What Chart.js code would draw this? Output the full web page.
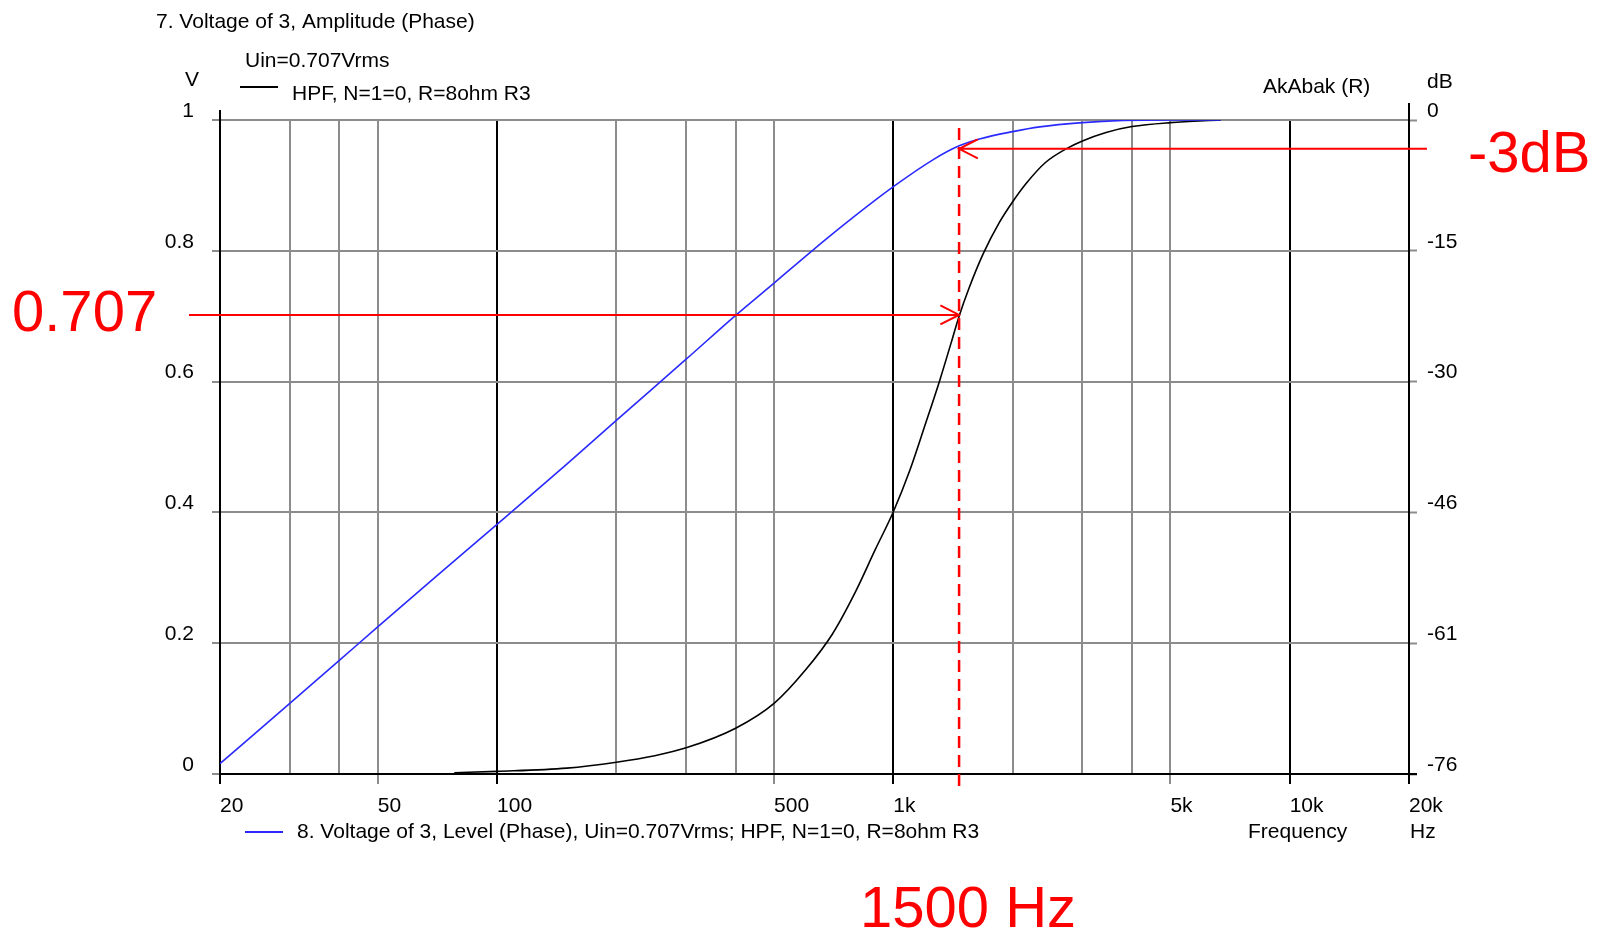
<!DOCTYPE html>
<html>
<head>
<meta charset="utf-8">
<title>HPF amplitude</title>
<script src="https://cdn.jsdelivr.net/npm/chart.js@4.4.1/dist/chart.umd.min.js"></script>
<style>
  html, body { margin: 0; padding: 0; background: #fff; }
  #wrap { width: 1602px; height: 931px; }
</style>
</head>
<body>
<div id="wrap"><canvas id="mycanvas" width="1602" height="931"></canvas></div>
<script>
/* frequency axis, Hz */
var xGridValues = [20, 30, 40, 50, 100, 200, 300, 400, 500, 1000, 2000, 3000, 4000, 5000, 10000, 20000];
var xLabelValues = [20, 50, 100, 500, 1000, 5000, 10000, 20000];
var xLabelText = ['20', '50', '100', '500', '1k', '5k', '10k', '20k'];
var xDarkLines = [20, 100, 1000, 10000, 20000];

/* left axis (V) and right axis (dB) */
var voltTicks = [0, 0.2, 0.4, 0.6, 0.8, 1];
var dbTicks = [-76, -60.8, -45.6, -30.4, -15.2, 0];
var dbTickText = ['-76', '-61', '-46', '-30', '-15', '0'];

/* blue curve: level, dB */
var levelFreq = [20, 30, 40, 50, 70, 100, 150, 200, 300, 400, 500, 616, 763, 1000, 1261, 1465, 1650, 2000, 2340, 3000, 3800, 5000, 6700];
var levelDb = [-74.8, -67.8, -62.8, -58.9, -53.1, -47.0, -40.0, -34.9, -27.8, -22.7, -18.95, -15.4, -11.9, -7.75, -4.6, -3.0, -2.2, -1.35, -0.8, -0.31, -0.06, 0, 0];

/* black curve: amplitude, V */
var ampFreq = [78, 100, 150, 200, 250, 300, 400, 500, 600, 700, 800, 900, 1000, 1100, 1200, 1311, 1400, 1465, 1550, 1687, 1850, 2000, 2170, 2420, 2750, 3000, 3440, 4000, 5000, 6700];
var ampVolt = [0.002, 0.004, 0.009, 0.018, 0.028, 0.040, 0.070, 0.108, 0.159, 0.213, 0.277, 0.343, 0.401, 0.464, 0.532, 0.603, 0.660, 0.700, 0.742, 0.796, 0.843, 0.875, 0.904, 0.935, 0.957, 0.968, 0.981, 0.990, 0.996, 1.0];

/* red markers */
var cutFreq = 1465;
var cutVolt = 0.702;
var cutDb = -3.35;

var FONT = '"Liberation Sans", Arial, sans-serif';
var GREY = '#8c8c8c';

function toPoints(xs, ys) {
	var out = [];
	for (var i = 0; i < xs.length; i++) out.push({x: xs[i], y: ys[i]});
	return out;
}

function xLineColor(ctx) {
	var v = ctx.tick ? ctx.tick.value : null;
	return xDarkLines.indexOf(v) >= 0 ? '#000' : GREY;
}

function xTickColor(ctx) {
	var v = ctx.tick ? ctx.tick.value : null;
	if (xLabelValues.indexOf(v) < 0) return 'rgba(0,0,0,0)';
	return xLineColor(ctx);
}

function arrow(c, x1, y1, x2, y2) {
	/* line from (x1,y1) to head at (x2,y2) */
	var ang = Math.atan2(y2 - y1, x2 - x1);
	c.beginPath();
	c.moveTo(x1, y1);
	c.lineTo(x2, y2);
	c.moveTo(x2 - 21 * Math.cos(ang - 0.47), y2 - 21 * Math.sin(ang - 0.47));
	c.lineTo(x2, y2);
	c.lineTo(x2 - 21 * Math.cos(ang + 0.47), y2 - 21 * Math.sin(ang + 0.47));
	c.stroke();
}

var overlay = {
	id: 'overlay',
	afterDatasetsDraw: function(chart) {
		var c = chart.ctx, a = chart.chartArea;
		var xs = chart.scales.x, ys = chart.scales.y, yd = chart.scales.y1;
		c.save();

		/* axis stubs outside the plot */
		c.strokeStyle = '#000';
		c.lineWidth = 2;
		c.beginPath();
		c.moveTo(a.left, a.top - 10); c.lineTo(a.left, a.top);
		c.moveTo(a.right, a.top - 17); c.lineTo(a.right, a.top);
		c.moveTo(a.right, a.bottom); c.lineTo(a.right + 8, a.bottom);
		c.stroke();

		/* texts */
		c.fillStyle = '#000';
		c.font = '21px ' + FONT;
		c.textBaseline = 'alphabetic';
		c.textAlign = 'left';
		c.fillText('7. Voltage of 3, Amplitude (Phase)', 156, 28);
		c.fillText('Uin=0.707Vrms', 245, 67);
		c.fillText('V', 185, 86);
		c.fillText('HPF, N=1=0, R=8ohm R3', 292, 100);
		c.fillText('AkAbak (R)', 1263, 93);
		c.fillText('dB', 1427, 88);
		c.fillText('8. Voltage of 3, Level (Phase), Uin=0.707Vrms; HPF, N=1=0, R=8ohm R3', 297, 838);
		c.fillText('Frequency', 1248, 838);
		c.fillText('Hz', 1410, 838);

		/* legend swatches */
		c.lineWidth = 2;
		c.strokeStyle = '#000';
		c.beginPath(); c.moveTo(240, 87); c.lineTo(278, 87); c.stroke();
		c.strokeStyle = '#2a2aff';
		c.beginPath(); c.moveTo(245, 832); c.lineTo(283, 832); c.stroke();

		/* red annotations */
		var fx = xs.getPixelForValue(cutFreq);
		var vy = ys.getPixelForValue(cutVolt);
		var dy = yd.getPixelForValue(cutDb);
		c.strokeStyle = '#ff0000';
		c.lineWidth = 2.5;
		c.setLineDash([12, 7]);
		c.beginPath();
		c.moveTo(fx, a.top + 8);
		c.lineTo(fx, a.bottom + 18);
		c.stroke();
		c.setLineDash([]);
		c.lineWidth = 2;
		arrow(c, a.left - 31, vy, fx, vy);
		arrow(c, a.right + 18, dy, fx, dy);

		c.fillStyle = '#ff0000';
		c.font = '58px ' + FONT;
		c.fillText('0.707', 12, 331);
		c.fillText('-3dB', 1468, 172);
		c.fillText('1500 Hz', 860, 927);
		c.restore();
	}
};

var ctx = document.getElementById('mycanvas');
var chart = new Chart(ctx, {
	type: 'line',
	data: {
		datasets: [
			{
				label: 'Level',
				data: toPoints(levelFreq, levelDb),
				yAxisID: 'y1',
				borderColor: '#2a2aff',
				borderWidth: 1.6,
				pointRadius: 0,
				cubicInterpolationMode: 'monotone',
				fill: false
			},
			{
				label: 'Amplitude',
				data: toPoints(ampFreq, ampVolt),
				yAxisID: 'y',
				borderColor: '#000',
				borderWidth: 1.6,
				pointRadius: 0,
				cubicInterpolationMode: 'monotone',
				fill: false
			}
		]
	},
	options: {
		responsive: false,
		animation: false,
		layout: { padding: { top: 120, left: 0, right: 0, bottom: 0 } },
		plugins: { legend: { display: false }, tooltip: { enabled: false } },
		scales: {
			x: {
				type: 'logarithmic',
				position: 'bottom',
				min: 20,
				max: 20000,
				afterBuildTicks: function(s) {
					s.ticks = xGridValues.map(function(v) { return {value: v}; });
				},
				afterFit: function(s) { s.height = 157; },
				grid: {
					color: xLineColor,
					tickColor: xTickColor,
					lineWidth: 2,
					tickWidth: 2,
					tickLength: 10,
					drawTicks: true
				},
				border: { display: true, color: '#000', width: 2 },
				ticks: {
					autoSkip: false,
					maxRotation: 0,
					align: 'start',
					padding: 10,
					color: '#000',
					font: { family: FONT, size: 21 },
					callback: function(v) {
						var i = xLabelValues.indexOf(v);
						return i >= 0 ? xLabelText[i] : '';
					}
				}
			},
			y: {
				type: 'linear',
				position: 'left',
				min: 0,
				max: 1,
				afterBuildTicks: function(s) {
					s.ticks = voltTicks.map(function(v) { return {value: v}; });
				},
				afterFit: function(s) { s.width = 220; },
				grid: { color: GREY, lineWidth: 2, tickLength: 8, tickWidth: 2 },
				border: { display: true, color: '#000', width: 2 },
				ticks: {
					padding: 18,
					labelOffset: -9,
					color: '#000',
					font: { family: FONT, size: 21 },
					callback: function(v) { return String(Math.round(v * 10) / 10); }
				}
			},
			y1: {
				type: 'linear',
				position: 'right',
				min: -76,
				max: 0,
				afterBuildTicks: function(s) {
					s.ticks = dbTicks.map(function(v) { return {value: v}; });
				},
				afterFit: function(s) { s.width = 193; },
				grid: { drawOnChartArea: false, color: GREY, tickLength: 8, tickWidth: 2 },
				border: { display: true, color: '#000', width: 2 },
				ticks: {
					padding: 10,
					labelOffset: -9,
					color: '#000',
					font: { family: FONT, size: 21 },
					callback: function(v) {
						var i = dbTicks.indexOf(v);
						return i >= 0 ? dbTickText[i] : '';
					}
				}
			}
		}
	},
	plugins: [overlay]
});
</script>
</body>
</html>
